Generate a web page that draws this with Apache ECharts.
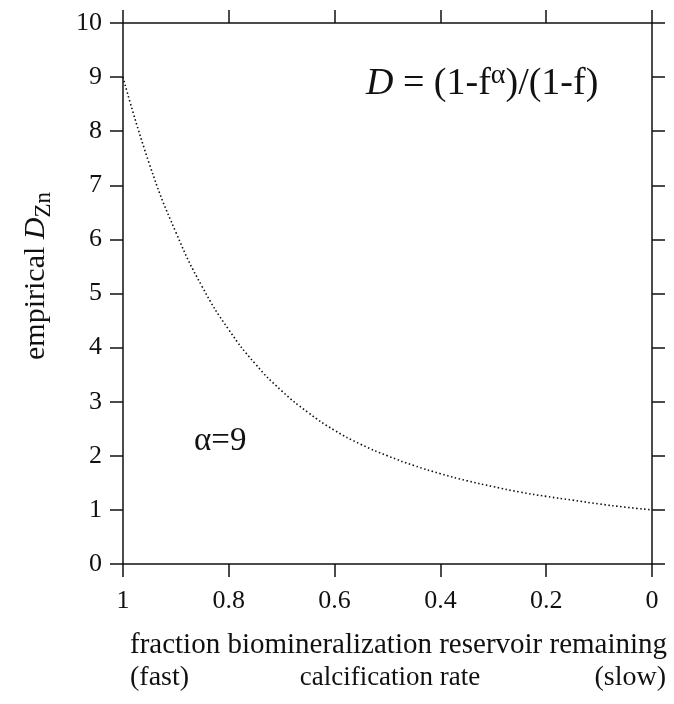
<!DOCTYPE html>
<html>
<head>
<meta charset="utf-8">
<script src="https://cdn.jsdelivr.net/npm/echarts@6/dist/echarts.min.js"></script>
<style>
	html, body { margin: 0; padding: 0; background: #fff; }
	#chart { width: 674px; height: 704px; }
</style>
</head>
<body>
<div id="chart"></div>
<script>
	// fraction remaining (f) and empirical D
	var fraction = [1, 0.95, 0.9, 0.85, 0.8, 0.75, 0.7, 0.65, 0.6, 0.55, 0.5, 0.45, 0.4, 0.35, 0.3, 0.25, 0.2, 0.15, 0.1, 0.05, 0];
	var dValues = [9.0, 7.39, 6.13, 5.12, 4.33, 3.70, 3.20, 2.80, 2.47, 2.21, 2.0, 1.82, 1.67, 1.54, 1.43, 1.33, 1.25, 1.18, 1.11, 1.05, 1.0];
	var yTicks = [0, 1, 2, 3, 4, 5, 6, 7, 8, 9, 10];
	var xTicks = [1, 0.8, 0.6, 0.4, 0.2, 0];

	var serif = 'Liberation Serif';
	var points = [];
	for (var i = 0; i < fraction.length; i++) {
		points.push([fraction[i], dValues[i]]);
	}

	var axisLine = { show: true, onZero: false, lineStyle: { color: '#111', width: 1.5 } };
	var tick = { show: true, inside: false, length: 13, lineStyle: { color: '#111', width: 1.5 } };

	var chart = echarts.init(document.getElementById('chart'), null, { renderer: 'canvas' });
	chart.setOption({
		backgroundColor: '#fff',
		animation: false,
		grid: { left: 123, right: 22, top: 23, bottom: 140 },
		xAxis: [
			{
				type: 'value', position: 'bottom', inverse: true,
				min: 0, max: 1, interval: 0.2,
				axisLine: axisLine, axisTick: tick, splitLine: { show: false },
				axisLabel: {
					color: '#111', fontFamily: serif, fontSize: 26, margin: 24,
					formatter: function (v) { return xTicks.indexOf(+v.toFixed(1)) >= 0 ? String(+v.toFixed(1)) : ''; }
				}
			},
			{
				type: 'value', position: 'top', inverse: true,
				min: 0, max: 1, interval: 0.2,
				axisLine: axisLine, axisTick: tick, splitLine: { show: false },
				axisLabel: { show: false }
			}
		],
		yAxis: [
			{
				type: 'value', position: 'left',
				min: 0, max: 10, interval: 1,
				axisLine: axisLine, axisTick: tick, splitLine: { show: false },
				axisLabel: {
					color: '#111', fontFamily: serif, fontSize: 26, margin: 21,
					formatter: function (v) { return yTicks.indexOf(v) >= 0 ? String(v) : ''; }
				}
			},
			{
				type: 'value', position: 'right',
				min: 0, max: 10, interval: 1,
				axisLine: axisLine, axisTick: tick, splitLine: { show: false },
				axisLabel: { show: false }
			}
		],
		series: [
			{
				type: 'line',
				data: points,
				smooth: true,
				showSymbol: false,
				lineStyle: { color: '#111', width: 1.6, type: [1.5, 2.5] }
			}
		],
		graphic: [
			{
				// y axis title, rotated
				type: 'text', x: 36, y: 276, rotation: Math.PI / 2,
				style: {
					text: '{n|empirical }{d|D}{s|Zn}',
					align: 'center', verticalAlign: 'middle',
					rich: {
						n: { fontFamily: serif, fontSize: 30, fill: '#111' },
						d: { fontFamily: serif, fontSize: 30, fontStyle: 'italic', fill: '#111' },
						s: { fontFamily: serif, fontSize: 23, fill: '#111', padding: [16, 0, 0, 0] }
					}
				}
			},
			{
				type: 'text', x: 366, y: 84,
				style: {
					text: '{d|D}{t| = (1-f}{a|α}{t|)/(1-f)}',
					align: 'left', verticalAlign: 'middle',
					rich: {
						d: { fontFamily: serif, fontSize: 38, fontStyle: 'italic', fill: '#111' },
						t: { fontFamily: serif, fontSize: 38, fill: '#111' },
						a: { fontFamily: serif, fontSize: 28, fill: '#111', padding: [0, 0, 16, 0] }
					}
				}
			},
			{
				type: 'text', x: 194, y: 441,
				style: { text: 'α=9', fontFamily: serif, fontSize: 33, fill: '#111', verticalAlign: 'middle' }
			},
			{
				type: 'text', x: 130, y: 631,
				style: { text: 'fraction biomineralization reservoir remaining', fontFamily: serif, fontSize: 29, fill: '#111' }
			},
			{
				type: 'text', x: 130, y: 664,
				style: { text: '(fast)', fontFamily: serif, fontSize: 28, fill: '#111' }
			},
			{
				type: 'text', x: 390, y: 664,
				style: { text: 'calcification rate', fontFamily: serif, fontSize: 27, fill: '#111', align: 'center' }
			},
			{
				type: 'text', x: 666, y: 664,
				style: { text: '(slow)', fontFamily: serif, fontSize: 28, fill: '#111', align: 'right' }
			}
		]
	});
</script>
</body>
</html>
